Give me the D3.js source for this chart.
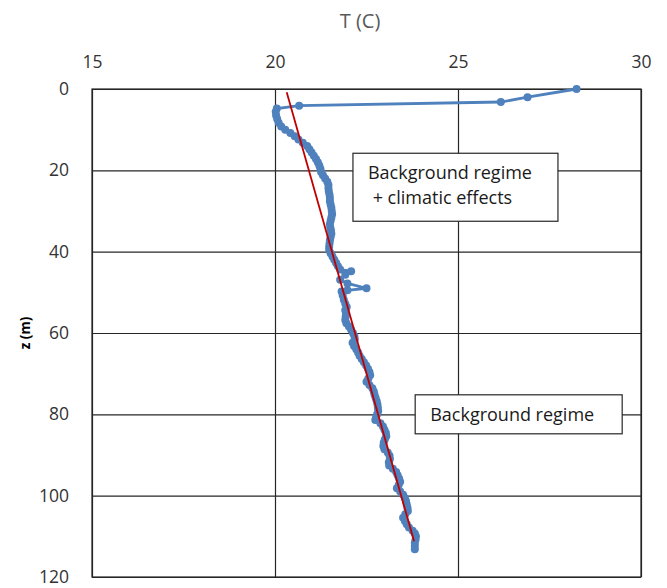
<!DOCTYPE html>
<html>
<head>
<meta charset="utf-8">
<script src="https://cdn.jsdelivr.net/npm/d3@7"></script>
<style>
  body { margin: 0; background: #fff; }
  svg { font-family: "Open Sans", sans-serif; }
</style>
</head>
<body>
<svg id="chart" width="667" height="588"></svg>
<script>
// temperature profile
var depth = [0, 2.0, 3.2, 4.1, 4.8, 5.6, 6.5, 7.4, 8.3, 9.2, 10.0, 10.8, 11.6, 12.4, 13.2, 14.0, 14.8, 15.6, 16.4, 17.2,
  18.0, 18.8, 19.6, 20.4, 21.2, 22.0, 22.8, 23.6, 24.4, 25.2, 26.0, 26.8, 27.6, 28.4, 29.2, 30.0, 30.8, 31.6, 32.4, 33.2,
  34.0, 34.8, 35.6, 36.4, 37.2, 38.0, 38.8, 39.6, 40.4, 41.2, 42.0, 42.8, 43.6, 44.4, 44.8, 45.7, 46.9, 47.8, 49.0, 49.5,
  49.8, 50.8, 51.8, 52.8, 53.6, 54.4, 55.2, 56.0, 56.8, 57.6, 58.4, 59.2, 60.0, 60.8, 61.6, 62.4, 63.2, 64.0, 64.8, 65.6,
  66.4, 67.2, 68.0, 68.8, 69.6, 70.4, 71.2, 72.0, 72.8, 73.6, 74.4, 75.2, 76.0, 76.8, 77.6, 78.4, 79.2, 80.0, 80.8, 81.4,
  82.2, 83.0, 83.8, 84.6, 85.4, 86.2, 87.0, 87.8, 88.6, 89.4, 90.2, 91.0, 91.8, 92.6, 93.4, 94.2, 95.0, 95.8, 96.6, 97.4,
  98.2, 99.0, 99.8, 100.6, 101.4, 102.2, 103.0, 103.8, 104.6, 105.4, 106.2, 107.0, 107.8, 108.6, 109.3, 110.0, 110.8, 111.6, 112.4, 113.2];
var temp = [28.24, 26.9, 26.17, 20.66, 20.05, 20.02, 20.03, 20.06, 20.1, 20.17, 20.28, 20.42, 20.54, 20.64, 20.76, 20.88, 20.94, 21.0, 21.06, 21.12,
  21.17, 21.21, 21.24, 21.26, 21.31, 21.37, 21.43, 21.46, 21.46, 21.47, 21.49, 21.5, 21.5, 21.52, 21.54, 21.55, 21.56, 21.54, 21.52, 21.5,
  21.51, 21.53, 21.54, 21.52, 21.5, 21.49, 21.48, 21.48, 21.52, 21.57, 21.62, 21.67, 21.72, 21.78, 22.08, 21.92, 21.78, 21.98, 22.5, 21.98,
  21.82, 21.85, 21.88, 21.92, 21.96, 21.92, 21.94, 21.93, 21.92, 21.95, 22.02, 22.08, 22.13, 22.17, 22.18, 22.12, 22.16, 22.22, 22.27, 22.31,
  22.37, 22.43, 22.49, 22.54, 22.58, 22.6, 22.55, 22.5, 22.58, 22.66, 22.7, 22.72, 22.75, 22.78, 22.8, 22.81, 22.82, 22.79, 22.76, 22.74,
  22.88, 22.95, 22.99, 23.03, 23.04, 23.0, 22.97, 22.96, 22.99, 23.08, 23.13, 23.14, 23.11, 23.12, 23.22, 23.31, 23.35, 23.39, 23.42, 23.38,
  23.33, 23.42, 23.5, 23.55, 23.58, 23.6, 23.62, 23.63, 23.56, 23.5, 23.55, 23.6, 23.66, 23.76, 23.82, 23.85, 23.84, 23.82, 23.82, 23.82];

// linear background trend (end points)
var fitDepth = [0.8, 111.2];
var fitTemp = [20.32, 23.8];

var xTicks = [15, 20, 25, 30];
var yTicks = [0, 20, 40, 60, 80, 100, 120];

var notes = [
  { lines: ["Background regime", " + climatic effects"], t: 22.13, z: 15.8, w: 205, h: 68 },
  { lines: ["Background regime"], t: 23.83, z: 75.2, w: 207, h: 39 }
];

var margin = { top: 89, left: 92 }, width = 549, height = 488;
var svg = d3.select("#chart");
var g = svg.append("g").attr("transform", "translate(" + margin.left + "," + margin.top + ")");

var x = d3.scaleLinear().domain([15, 30]).range([0, width]);
var y = d3.scaleLinear().domain([0, 120]).range([0, height]);

// grid lines
g.append("g")
  .attr("transform", "translate(0," + height + ")")
  .call(d3.axisBottom(x).tickValues(xTicks).tickSize(-height).tickFormat(""))
  .call(s => s.select(".domain").remove())
  .selectAll("line").attr("stroke", "#262626").attr("stroke-width", 1.2);
g.append("g")
  .call(d3.axisLeft(y).tickValues(yTicks).tickSize(-width).tickFormat(""))
  .call(s => s.select(".domain").remove())
  .selectAll("line").attr("stroke", "#262626").attr("stroke-width", 1.2);

g.append("rect")
  .attr("width", width).attr("height", height)
  .attr("fill", "none").attr("stroke", "#262626").attr("stroke-width", 1.2);

// tick labels
var xAxis = g.append("g")
  .attr("transform", "translate(0,-18)")
  .call(d3.axisTop(x).tickValues(xTicks).tickSize(0));
xAxis.select(".domain").remove();
xAxis.selectAll("text").attr("font-size", 17.5).attr("fill", "#333").attr("font-family", "Open Sans");

var yAxis = g.append("g")
  .attr("transform", "translate(-20,0)")
  .call(d3.axisLeft(y).tickValues(yTicks).tickSize(0));
yAxis.select(".domain").remove();
yAxis.selectAll("text").attr("font-size", 17.5).attr("fill", "#333").attr("font-family", "Open Sans");

// axis titles
svg.append("text")
  .attr("x", 360).attr("y", 28)
  .attr("text-anchor", "middle")
  .attr("font-size", 20).attr("fill", "#595959")
  .text("T (C)");
svg.append("text")
  .attr("transform", "translate(30,333) rotate(-90)")
  .attr("text-anchor", "middle")
  .attr("font-size", 13.5).attr("font-weight", "bold").attr("fill", "#000")
  .text("z (m)");

// profile
var pts = depth.map((d, i) => ({ z: d, t: temp[i] }));
g.append("path")
  .datum(pts)
  .attr("fill", "none")
  .attr("stroke", "#4f81bd")
  .attr("stroke-width", 2.8)
  .attr("d", d3.line().x(d => x(d.t)).y(d => y(d.z)));
g.selectAll(".pt")
  .data(pts)
  .enter().append("circle")
  .attr("class", "pt")
  .attr("cx", d => x(d.t)).attr("cy", d => y(d.z))
  .attr("r", 4)
  .attr("fill", "#4f81bd");

// trend line
g.append("line")
  .attr("x1", x(fitTemp[0])).attr("y1", y(fitDepth[0]))
  .attr("x2", x(fitTemp[1])).attr("y2", y(fitDepth[1]))
  .attr("stroke", "#c00000").attr("stroke-width", 1.8);

// annotation boxes
notes.forEach(n => {
  var b = g.append("g").attr("transform", "translate(" + x(n.t) + "," + y(n.z) + ")");
  b.append("rect")
    .attr("width", n.w).attr("height", n.h)
    .attr("fill", "#fff").attr("stroke", "#262626").attr("stroke-width", 1.2);
  n.lines.forEach((l, i) => {
    b.append("text")
      .attr("x", 15).attr("y", 26 + i * 25)
      .attr("font-size", 18).attr("fill", "#1a1a1a")
      .attr("xml:space", "preserve")
      .text(l);
  });
});
</script>
</body>
</html>
